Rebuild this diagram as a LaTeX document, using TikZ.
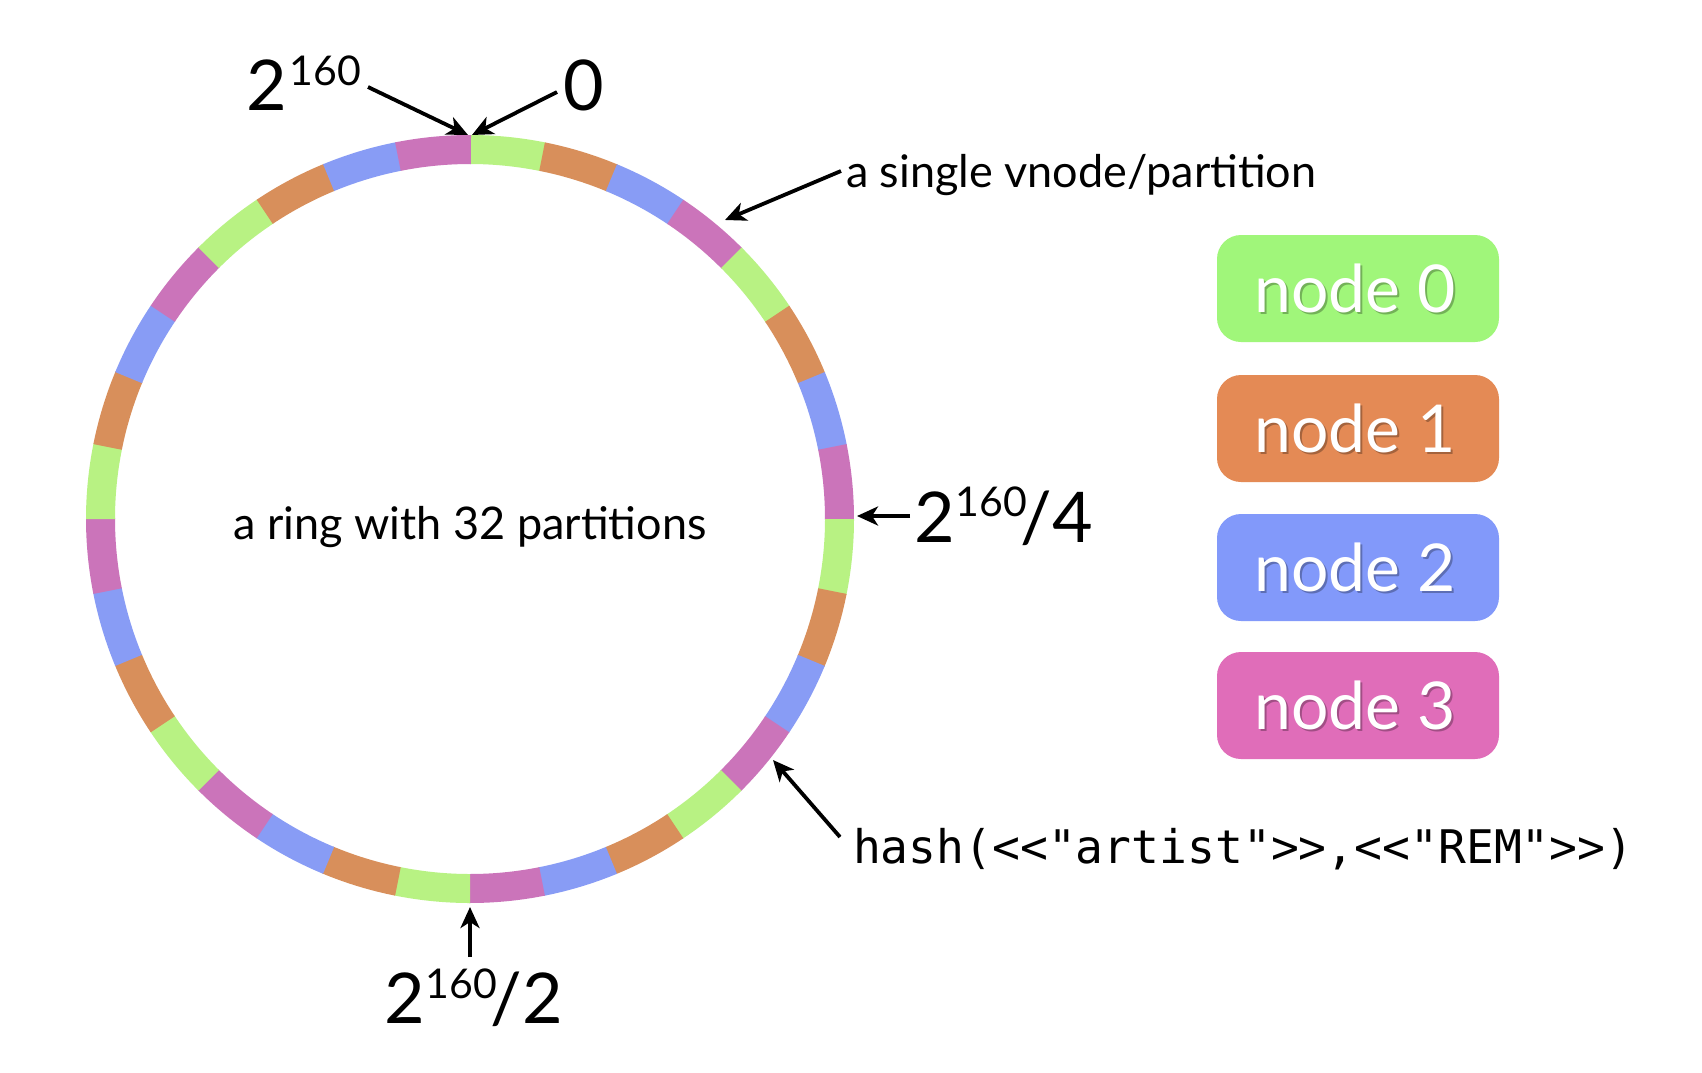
\documentclass[tikz,border=0pt]{standalone}
\usepackage{fontspec}
\setmainfont{Lato}
\newfontfamily\monofont{DejaVu Sans Mono}
\usetikzlibrary{arrows.meta}
\definecolor{rgreen}{HTML}{B8F283}
\definecolor{rorange}{HTML}{D88F5B}
\definecolor{rblue}{HTML}{889CF5}
\definecolor{rpink}{HTML}{CB74BA}
\definecolor{lgreen}{HTML}{A0F67A}
\definecolor{lorange}{HTML}{E48A55}
\definecolor{lblue}{HTML}{8299FA}
\definecolor{lpink}{HTML}{E06DB9}
\newcommand\lblbig{\fontsize{70}{70}\selectfont}
\newcommand\lblsup{\fontsize{41}{41}\selectfont}
\newcommand\lblmid{\fontsize{45}{45}\selectfont}
\begin{document}
\begin{tikzpicture}[x=1pt,y=1pt,
  arr/.style={line width=3.8pt, -{Stealth[length=21pt,width=19pt,inset=6pt]}},
  lbl/.style={inner sep=0pt, outer sep=0pt},
  legbox/.style={rectangle, rounded corners=24pt, minimum width=282pt, minimum height=107pt, inner sep=0pt},
  legtext/.style={inner sep=0pt, anchor=base, text=white, font=\fontsize{66}{66}\selectfont},
  legshadow/.style={legtext, text=black, opacity=0.28}
]
\useasboundingbox (0,0) rectangle (1702,-1072);
\fill[white] (0,0) rectangle (1702,-1072);
% ring
\coordinate (c) at (470,-519);
\foreach \q in {0,...,7}{
  \foreach \col [count=\i from 0] in {rgreen,rorange,rblue,rpink}{
    \pgfmathsetmacro\a{90-11.25*(4*\q+\i)}
    \pgfmathsetmacro\b{\a-11.4}
    \fill[\col] (c) ++(\a:384) arc[start angle=\a, end angle=\b, radius=384]
      -- ++(\b:-29) arc[start angle=\b, end angle=\a, radius=355] -- cycle;
  }
}
% labels
\node[lbl, anchor=base west] (ltop) at (246,-110) {\lblbig 2\hspace{3pt}\raisebox{25pt}{\lblsup 160}};
\node[lbl, anchor=base west] (lzero) at (563,-110) {\lblbig 0};
\node[lbl, anchor=base west] (lquarter) at (914,-542) {\lblbig 2\hspace{1pt}\raisebox{26pt}{\lblsup 160}\hspace{-6pt}/4};
\node[lbl, anchor=base west] (lhalf) at (384,-1023) {\lblbig 2\hspace{1pt}\raisebox{25pt}{\lblsup 160}\hspace{-6pt}/2};
\node[lbl, anchor=base] (lring) at (470,-539) {\lblmid a ring with 32 partitions};
\node[lbl, anchor=base west] (lvnode) at (846,-187) {\lblmid a single vnode/partition};
\node[lbl, anchor=base west] (lhash) at (853,-863) {\monofont\fontsize{46.3}{46.3}\selectfont hash(<<"artist">>,<<"REM">>)};
% arrow end points
\coordinate (ptopL) at (468,-135);
\coordinate (ptopR) at (472,-135);
\coordinate (tTop) at (368,-87);
\coordinate (tZero) at (557,-92);
\coordinate (pVnode) at (725,-220);
\coordinate (tVnode) at (841,-171);
\coordinate (pQuarter) at (857,-516);
\coordinate (tQuarter) at (910,-516);
\coordinate (pHalf) at (470,-907);
\coordinate (tHalf) at (470,-957);
\coordinate (pHash) at (773,-760);
\coordinate (tHash) at (840,-837);
\draw[arr] (tTop) -- (ptopL);
\draw[arr] (tZero) -- (ptopR);
\draw[arr] (tVnode) -- (pVnode);
\draw[arr] (tQuarter) -- (pQuarter);
\draw[arr] (tHalf) -- (pHalf);
\draw[arr] (tHash) -- (pHash);
% legend
\node[legbox, fill=lgreen] (n0) at (1358,-288.5) {};
\node[legbox, fill=lorange] (n1) at (1358,-428.5) {};
\node[legbox, fill=lblue] (n2) at (1358,-567.5) {};
\node[legbox, fill=lpink] (n3) at (1358,-705.5) {};
\node[legshadow] at (1357,-314.5) {node 0};
\node[legtext] (t0) at (1355,-312) {node 0};
\node[legshadow] at (1357,-454.5) {node 1};
\node[legtext] (t1) at (1355,-452) {node 1};
\node[legshadow] at (1357,-593.5) {node 2};
\node[legtext] (t2) at (1355,-591) {node 2};
\node[legshadow] at (1357,-731.5) {node 3};
\node[legtext] (t3) at (1355,-729) {node 3};
\end{tikzpicture}
\end{document}
